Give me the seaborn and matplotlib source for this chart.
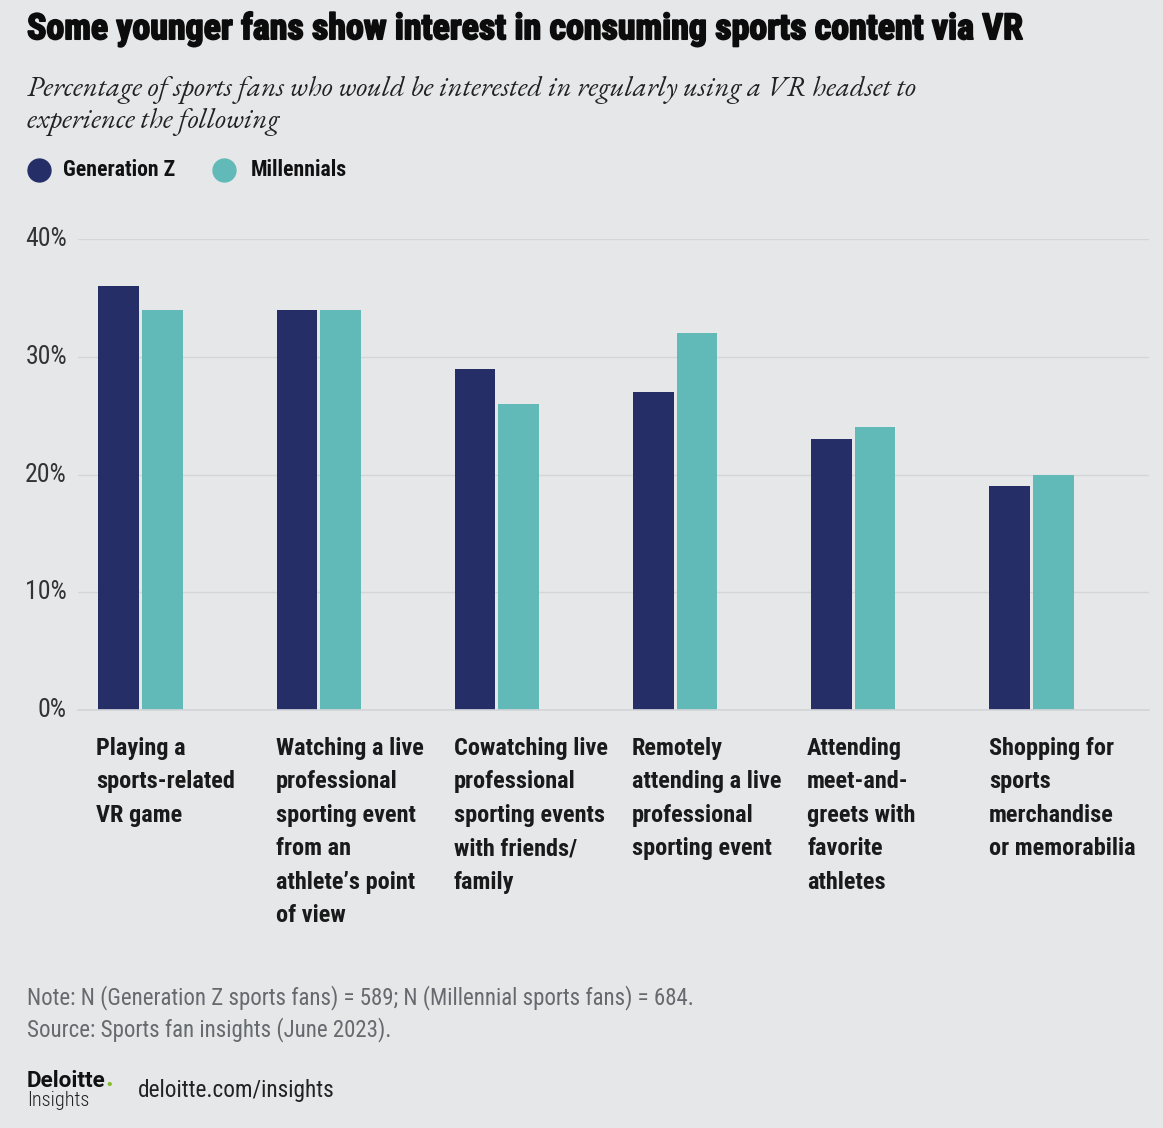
import matplotlib
matplotlib.use("Agg")
import matplotlib.pyplot as plt
import matplotlib.patheffects as pe
from matplotlib.transforms import ScaledTranslation
import seaborn as sns
import pandas as pd

categories = ["Playing a\nsports-related\nVR game",
              "Watching a live\nprofessional\nsporting event\nfrom an\nathlete\u2019s point\nof view",
              "Cowatching live\nprofessional\nsporting events\nwith friends/\nfamily",
              "Remotely\nattending a live\nprofessional\nsporting event",
              "Attending\nmeet-and-\ngreets with\nfavorite\nathletes",
              "Shopping for\nsports\nmerchandise\nor memorabilia"]
gen_z = [36, 34, 29, 27, 23, 19]
millennials = [34, 34, 26, 32, 24, 20]
y_ticks = [0, 10, 20, 30, 40]
label_x = [96, 276, 454, 632, 807, 989]

BG = "#e6e7e9"
NAVY = "#252e66"
TEAL = "#61bab7"
# the condensed and garamond faces are not on the promised font list, so keep listed ones behind them
COND = ["Roboto Condensed", "Roboto", "DejaVu Sans"]
SERIF = ["EB Garamond", "Liberation Serif"]

df = pd.DataFrame({"category": categories, "Generation Z": gen_z, "Millennials": millennials})
df = df.melt(id_vars="category", var_name="group", value_name="value")

sns.set_theme(style="white")
plt.rcParams["font.family"] = COND

W, H = 1163, 1128
fig = plt.figure(figsize=(W / 100, H / 100), dpi=100, facecolor=BG)
# axes span the gridlines: x 78-1149, y 239 (40%) to 710 (0%)
ax = fig.add_axes([78 / W, 1 - 710 / H, (1149 - 78) / W, (710 - 239) / H], facecolor=BG)

sns.barplot(data=df, x="category", y="value", hue="group", palette=[NAVY, TEAL],
            hue_order=["Generation Z", "Millennials"], order=categories,
            width=0.49, gap=0.07, legend=False, ax=ax, saturation=1, linewidth=0)

# spacing of the groups is 178px in the picture
unit = 178.2
x0 = (140.5 - 78) / unit
ax.set_xlim(-x0, (1149 - 78) / unit - x0)
ax.set_ylim(0, 40)
ax.set_yticks(y_ticks)
ax.set_yticklabels([f"{v}%" for v in y_ticks])
ax.tick_params(axis="y", length=0, pad=8, labelsize=18.5, labelcolor="#333333")
ax.tick_params(axis="x", length=0, labelbottom=False)
# tick labels sit a little above their gridlines
lift = ScaledTranslation(0, 2.5 / 100, fig.dpi_scale_trans)
for lab in ax.get_yticklabels():
    lab.set_transform(lab.get_transform() + lift)
ax.set_xlabel("")
ax.set_ylabel("")
ax.yaxis.grid(True, color="#d3d5d9", lw=1)
ax.xaxis.grid(False)
ax.set_axisbelow(True)
sns.despine(ax=ax, left=True, top=True, right=True)
ax.spines["bottom"].set_color("#d3d5d9")

def put(x, y, s, **kw):
    return fig.text(x / W, 1 - y / H, s, va="center", **kw)

title = put(27, 29, "Some younger fans show interest in consuming sports content via VR",
            fontsize=25.85, fontweight="bold", color="#0c0c0c")
title.set_path_effects([pe.withStroke(linewidth=1.3, foreground="#0c0c0c")])
put(27, 90, "Percentage of sports fans who would be interested in regularly using a VR headset to",
    fontsize=20.7, style="italic", family=SERIF, color="#222222")
put(27, 122, "experience the following",
    fontsize=20.7, style="italic", family=SERIF, color="#222222")

# legend
fig.add_artist(plt.Line2D([38.5 / W], [1 - 170 / H], marker="o", ms=16.5, color=NAVY, ls=""))
fig.add_artist(plt.Line2D([223.5 / W], [1 - 170 / H], marker="o", ms=16.5, color=TEAL, ls=""))
put(63, 170, "Generation Z", fontsize=15.7, fontweight="bold", color="#111111")
put(251, 170, "Millennials", fontsize=15.7, fontweight="bold", color="#111111")

for x, cat in zip(label_x, categories):
    fig.text(x / W, 1 - 736.5 / H, cat, va="top", ha="left", fontsize=17.5, fontweight="bold",
             color="#1a1a1a", linespacing=1.585)

put(27, 998, "Note: N (Generation Z sports fans) = 589; N (Millennial sports fans) = 684.",
    fontsize=16.5, color="#666a6e")
put(27, 1030, "Source: Sports fan insights (June 2023).", fontsize=16.5, color="#666a6e")

put(27, 1081, "Deloitte", fontsize=16.2, fontweight="bold", family="Roboto", color="#111111")
put(105, 1079, ".", fontsize=19, fontweight="bold", family="Roboto", color="#86bc25")
put(27, 1101, "Insights", fontsize=14.6, fontweight="light", color="#222222")
put(138, 1091, "deloitte.com/insights", fontsize=16.75, color="#222222")

fig.savefig("out.png", dpi=100, facecolor=BG)
